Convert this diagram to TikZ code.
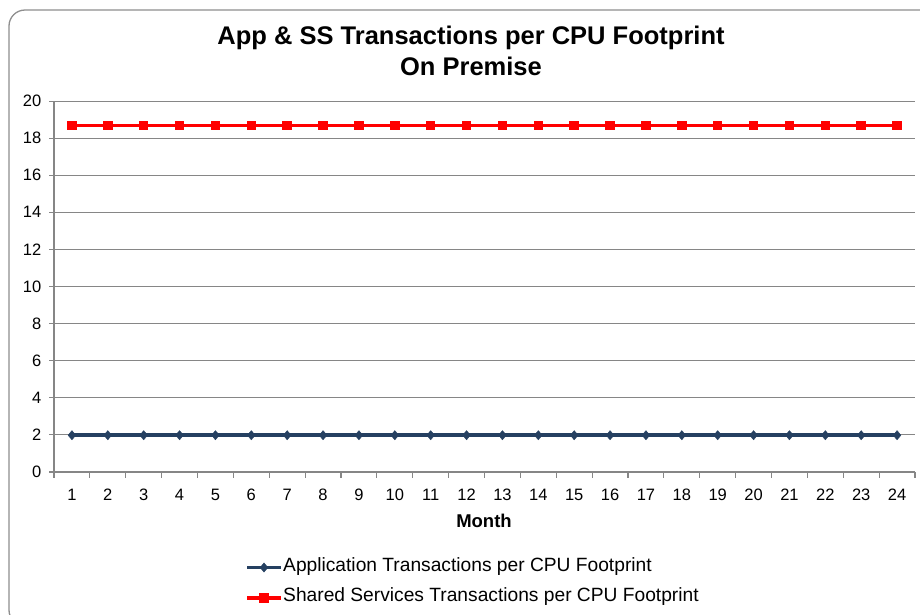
\documentclass[tikz,border=0pt]{standalone}
\usepackage{fontspec}
\setmainfont{Liberation Sans}
\usetikzlibrary{shapes.geometric}
\definecolor{serblue}{HTML}{254061}
\definecolor{gridgray}{HTML}{868686}
\definecolor{framegray}{HTML}{8E8E8E}
\begin{document}
\begin{tikzpicture}[x=1pt,y=-1pt,
  gridline/.style={draw=gridgray,line width=1pt},
  axisline/.style={draw=gridgray,line width=1.2pt},
  ticklabel/.style={font=\fontsize{16.5}{19}\selectfont,inner sep=0pt},
  bluemark/.style={diamond,fill=serblue,draw=serblue,line width=0.3pt,inner sep=0pt,minimum width=8pt,minimum height=9.5pt},
  redmark/.style={rectangle,fill=red,inner sep=0pt,minimum size=9.5pt},
  blueline/.style={draw=serblue,line width=3.6pt},
  redline/.style={draw=red,line width=3.6pt},
  legendtext/.style={font=\fontsize{19.2}{22}\selectfont,inner sep=0pt,anchor=west}]
\useasboundingbox (0,0) rectangle (920,614);
% chart frame (runs past the right and bottom edges)
\begin{scope}
  \clip (0,0) rectangle (920,614);
  \draw[framegray,line width=1.3pt,rounded corners=16pt] (9,10) rectangle (945,626);
\end{scope}
% title
\node[font=\fontsize{25.5}{30}\bfseries\selectfont,align=center,inner sep=0pt] (title) at (471,38) {App \& SS Transactions per CPU Footprint};
\node[font=\fontsize{25.5}{30}\bfseries\selectfont,inner sep=0pt] (title2) at (471,66) {On Premise};
% horizontal grid and value labels
\foreach \v in {0,2,...,20}{
  \pgfmathsetmacro{\yy}{472-\v*18.55}
  \draw[gridline] (49,\yy) -- (915,\yy);
  \node[ticklabel,anchor=east] (yl\v) at (41.5,\yy) {\v};
}
% axes
\draw[axisline] (54,101) -- (54,478);
\draw[axisline] (49,472) -- (915,472);
\foreach \k in {1,...,24}{
  \pgfmathsetmacro{\xx}{54+35.875*\k}
  \draw[axisline] (\xx,472) -- (\xx,478);
}
% category labels
\foreach \i in {1,...,24}{
  \pgfmathsetmacro{\xx}{54+35.875*(\i-0.5)}
  \node[ticklabel] (xl\i) at (\xx,495) {\i};
  \coordinate (r\i) at (\xx,125.3);
  \coordinate (b\i) at (\xx,435.2);
}
\node[font=\fontsize{18.5}{22}\bfseries\selectfont,inner sep=0pt] (month) at (484,521) {Month};
% series lines
\draw[redline] (r1) \foreach \i in {2,...,24}{ -- (r\i)};
\draw[blueline] (b1) \foreach \i in {2,...,24}{ -- (b\i)};
\foreach \i in {1,...,24}{
  \node[redmark] (rm\i) at (r\i) {};
  \node[bluemark] (bm\i) at (b\i) {};
}
% legend
\coordinate (la1) at (247,567.5);
\coordinate (lb1) at (281,567.5);
\coordinate (la2) at (247,598);
\coordinate (lb2) at (281,598);
\draw[blueline] (la1) -- (lb1);
\node[bluemark] (lm1) at (264,567.5) {};
\node[legendtext] (lt1) at (283,567) {Application Transactions per CPU Footprint};
\draw[redline] (la2) -- (lb2);
\node[redmark] (lm2) at (264,598) {};
\node[legendtext] (lt2) at (283,597) {Shared Services Transactions per CPU Footprint};
\end{tikzpicture}
\end{document}
